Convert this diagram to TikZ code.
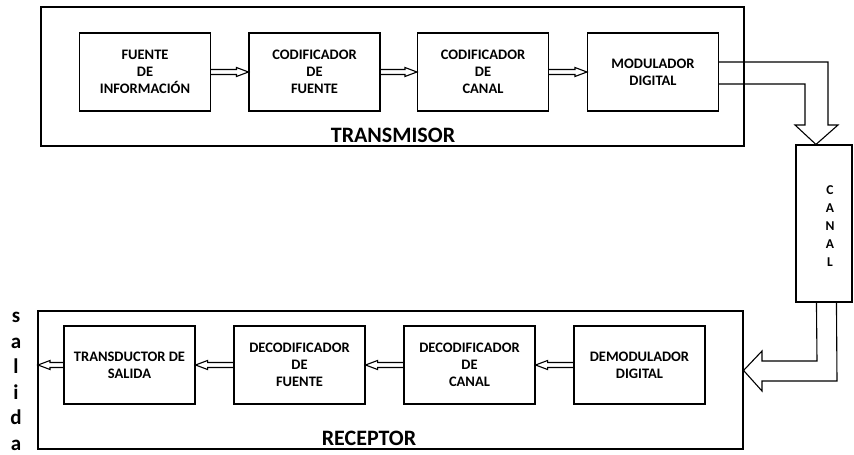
\documentclass[tikz,border=0pt]{standalone}
\usepackage{fontspec}
\setmainfont{Carlito}
\usetikzlibrary{calc}
\newcommand\rarr[2]{\draw ($(#1.east)+(0,-2.5)$) -- ($(#2.west)+(-12,-2.5)$) -- ($(#2.west)+(-12,-4.5)$) -- (#2.west) -- ($(#2.west)+(-12,4.5)$) -- ($(#2.west)+(-12,2.5)$) -- ($(#1.east)+(0,2.5)$);}
\newcommand\larr[2]{\draw ($(#1.west)+(0,-2.5)$) -- ($(#2.east)+(12,-2.5)$) -- ($(#2.east)+(12,-4.5)$) -- (#2.east) -- ($(#2.east)+(12,4.5)$) -- ($(#2.east)+(12,2.5)$) -- ($(#1.west)+(0,2.5)$);}
\begin{document}
\begin{tikzpicture}[x=1pt,y=-1pt,line width=1.1pt,line join=miter,
  frame/.style={draw,rectangle,inner sep=0pt},
  blk/.style={draw,rectangle,minimum width=131pt,minimum height=78pt,inner sep=0pt,align=center,font=\fontsize{14.5}{17}\selectfont\bfseries},
  lbl/.style={inner sep=0pt,font=\fontsize{22}{26}\selectfont\bfseries},
  pt/.style={inner sep=0pt,minimum size=0pt}]
\useasboundingbox (0,0) rectangle (854,455);
% transmitter
\node[frame,minimum width=703pt,minimum height=139pt] (tx) at (392.5,76.5) {};
\node[blk] (b1) at (145,72) {FUENTE\\DE\\INFORMACIÓN};
\node[blk] (b2) at (314.5,72) {CODIFICADOR\\DE\\FUENTE};
\node[blk] (b3) at (483,72) {CODIFICADOR\\DE\\CANAL};
\node[blk] (b4) at (653,72) {MODULADOR\\DIGITAL};
\node[lbl] (txl) at (393,135) {TRANSMISOR};
\rarr{b1}{b2}
\rarr{b2}{b3}
\rarr{b3}{b4}
% channel
\node[frame,minimum width=56pt,minimum height=157pt] (canal) at (824,223.5) {};
\node[inner sep=0pt,align=center,font=\fontsize{13.5}{18}\selectfont\bfseries] (canall) at (830,226) {C\\A\\N\\A\\L};
\coordinate (tipA) at ($(canal.north west)+(20.5,0)$);
\draw ($(b4.east)+(0,-10)$) -- (828,62) -- (828,125) -- (838,125) -- (tipA) -- (795,125) -- (805,125) -- (805,84) -- ($(b4.east)+(0,12)$);
% receiver
\node[frame,minimum width=705pt,minimum height=138pt] (rx) at (390.5,380) {};
\node[blk] (r1) at (129.5,365) {TRANSDUCTOR DE\\SALIDA};
\node[blk] (r2) at (299.5,365) {DECODIFICADOR\\DE\\FUENTE};
\node[blk] (r3) at (469.5,365) {DECODIFICADOR\\DE\\CANAL};
\node[blk] (r4) at (639.5,365) {DEMODULADOR\\DIGITAL};
\node[lbl] (rxl) at (369,438) {RECEPTOR};
\larr{r4}{r3}
\larr{r3}{r2}
\larr{r2}{r1}
\node[pt] (out) at (r1.west -| rx.west) {};
\larr{r1}{out}
\coordinate (tipB) at ($(rx.north east)+(0,60)$);
\draw ($(canal.south west)+(21,0)$) -- (817,361) -- (762,361) -- (762,351) -- (tipB) -- (762,391) -- (762,381) -- (837,381) -- ($(canal.south west)+(41,0)$);
% output label
\node[inner sep=0pt,anchor=north,align=center,font=\fontsize{21}{25.5}\selectfont\bfseries] (salida) at (16,312) {s\\a\\l\\i\\d\\a};
\end{tikzpicture}
\end{document}
